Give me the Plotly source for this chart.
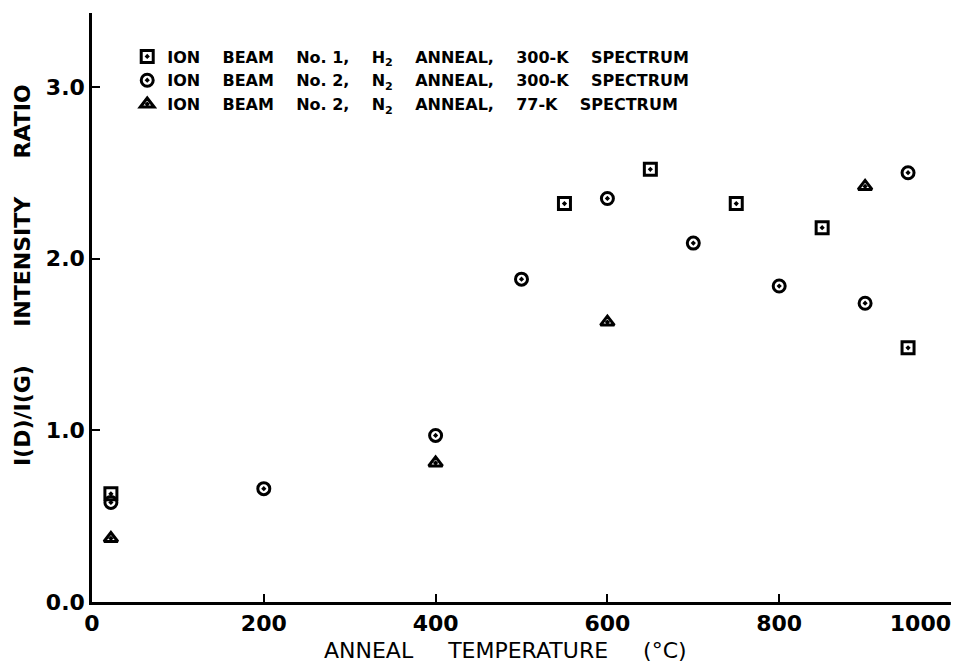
import plotly.graph_objects as go

NB = "\u00a0"

# Data
h2_x = [22, 550, 650, 750, 850, 950]
h2_y = [0.63, 2.32, 2.52, 2.32, 2.18, 1.48]

n2_300_x = [22, 200, 400, 500, 600, 700, 800, 900, 950]
n2_300_y = [0.58, 0.66, 0.97, 1.88, 2.35, 2.09, 1.84, 1.74, 2.50]

n2_77_x = [22, 400, 600, 900]
n2_77_y = [0.37, 0.81, 1.63, 2.42]

x_ticks = [0, 200, 400, 600, 800, 1000]
x_ticklabels = ["0", "200", "400", "600", "800", "1000"]
y_ticks = [0.0, 1.0, 2.0, 3.0]
y_ticklabels = ["0.0", "1.0", "2.0", "3.0"]

x_title = f"ANNEAL{NB * 5}TEMPERATURE{NB * 5}(°C)"
y_title = f"I(D)/I(G){NB * 5}INTENSITY{NB * 5}RATIO"

G = NB * 4
names = [
    f"ION{G}BEAM{G}No.{NB}1,{G}H<sub>2</sub>{G}ANNEAL,{G}300-K{G}SPECTRUM",
    f"ION{G}BEAM{G}No.{NB}2,{G}N<sub>2</sub>{G}ANNEAL,{G}300-K{G}SPECTRUM",
    f"ION{G}BEAM{G}No.{NB}2,{G}N<sub>2</sub>{G}ANNEAL,{G}77-K{G}SPECTRUM",
]

FONT = "DejaVu Sans"

fig = go.Figure()
series = [
    (h2_x, h2_y, "square-open-dot", 12),
    (n2_300_x, n2_300_y, "circle-open-dot", 12),
    (n2_77_x, n2_77_y, "triangle-up-open-dot", 12),
]
for (xs, ys, sym, sz), nm in zip(series, names):
    fig.add_trace(go.Scatter(
        x=xs, y=ys, mode="markers", name=nm,
        marker=dict(symbol=sym, size=sz, color="black", line=dict(color="black", width=3)),
    ))
# empty helper trace so the overlay axis (used only for the right-aligned last label) is drawn
fig.add_trace(go.Scatter(x=[], y=[], xaxis="x2", yaxis="y", showlegend=False,
                         hoverinfo="skip"))

main_ticktext = x_ticklabels[:-1] + [""]

fig.update_layout(
    width=955, height=666,
    margin=dict(l=92, r=4, t=13, b=64, autoexpand=False),
    paper_bgcolor="white", plot_bgcolor="white",
    font=dict(family=FONT, color="black"),
    showlegend=True,
    legend=dict(
        x=0.041, y=0.955, xanchor="left", yanchor="top",
        bgcolor="rgba(0,0,0,0)", borderwidth=0,
        font=dict(family=FONT, size=16, color="black", weight="bold"),
        tracegroupgap=0, itemwidth=30,
    ),
    xaxis=dict(
        range=[0, 1000], tickmode="array", tickvals=x_ticks, ticktext=main_ticktext,
        automargin=False,
        showgrid=False, zeroline=False, showline=True, linecolor="black", linewidth=2.5,
        ticks="inside", ticklen=8, tickwidth=2, tickcolor="black",
        tickfont=dict(family=FONT, size=22, color="black", weight="bold"),
    ),
    xaxis2=dict(
        range=[0, 1000], overlaying="x", side="bottom", anchor="y",
        tickmode="array", tickvals=x_ticks[-1:], ticktext=x_ticklabels[-1:],
        ticklabelposition="outside left", ticklabelstandoff=6,
        automargin=False, showgrid=False, zeroline=False, showline=False, ticks="",
        tickfont=dict(family=FONT, size=22, color="black", weight="bold"),
    ),
    yaxis=dict(
        range=[0, 3.43], tickmode="array", tickvals=y_ticks, ticktext=y_ticklabels,
        automargin=False,
        showgrid=False, zeroline=False, showline=True, linecolor="black", linewidth=2.5,
        ticks="inside", ticklen=8, tickwidth=2, tickcolor="black",
        tickfont=dict(family=FONT, size=22, color="black", weight="bold"),
    ),
    annotations=[
        dict(text=x_title, xref="paper", yref="paper", x=0.481, y=-0.0815,
             xanchor="center", yanchor="middle", showarrow=False,
             font=dict(family=FONT, size=22, color="black")),
        dict(text=y_title, xref="paper", yref="paper", x=-0.0815, y=0.555,
             xanchor="center", yanchor="middle", showarrow=False, textangle=-90,
             font=dict(family=FONT, size=22, color="black", weight="bold")),
    ],
)

fig.write_html("out.html")
